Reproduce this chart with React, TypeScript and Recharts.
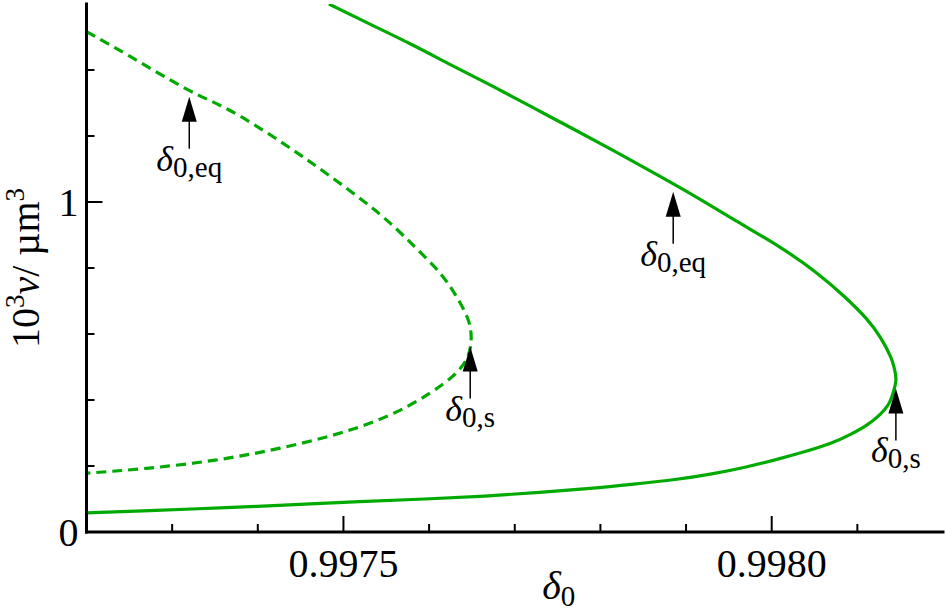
import React from "react";
import { LineChart, Line, XAxis, YAxis, ReferenceDot, Label } from "recharts";

const SERIF = "'Liberation Serif', 'Times New Roman', serif";
const GREEN = "#00aa00";

// stable branch (solid), read along the curve from the top edge, round the fold, to the left edge
const solidDelta = [
  0.997483, 0.997531, 0.997579, 0.997626, 0.997674, 0.997722, 0.99777, 0.997818,
  0.997866, 0.997914, 0.997961, 0.998009, 0.998051, 0.998085, 0.99811, 0.998127,
  0.998139, 0.998143, 0.998145,
  0.998141, 0.998136, 0.998126, 0.998111, 0.998092, 0.998068, 0.998038, 0.998006,
  0.99797, 0.99793, 0.997887, 0.997839, 0.997788, 0.997729, 0.997665, 0.997595,
  0.997519, 0.997437, 0.997356, 0.997274, 0.9972,
];
const solidVolume = [
  1.6, 1.539, 1.478, 1.415, 1.351, 1.285, 1.219, 1.152,
  1.083, 1.012, 0.939, 0.864, 0.788, 0.713, 0.648, 0.589,
  0.53, 0.497, 0.461,
  0.415, 0.385, 0.355, 0.324, 0.296, 0.268, 0.243, 0.22,
  0.197, 0.176, 0.159, 0.145, 0.132, 0.12, 0.109, 0.1,
  0.092, 0.082, 0.073, 0.065, 0.058,
];

// dashed branch
const dashedDelta = [
  0.9972, 0.997251, 0.997317, 0.997367, 0.997426, 0.997484, 0.997542, 0.997581,
  0.997612, 0.997632, 0.997646, 0.997649, 0.997644, 0.997628, 0.997601, 0.997562,
  0.997504, 0.997426, 0.997348, 0.99727, 0.9972,
];
const dashedVolume = [
  1.516, 1.441, 1.342, 1.278, 1.184, 1.079, 0.964, 0.87,
  0.787, 0.713, 0.64, 0.578, 0.525, 0.473, 0.421, 0.364,
  0.306, 0.254, 0.217, 0.193, 0.178,
];

// arrow annotations: tip position + subscript text
const arrowDelta = [0.99732, 0.997648, 0.997885, 0.998145];
const arrowVolume = [1.319, 0.562, 1.031, 0.435];
const arrowSub = ["0,eq", "0,s", "0,eq", "0,s"];

const xTicks = [0.9973, 0.9974, 0.9975, 0.9976, 0.9977, 0.9978, 0.9979, 0.998, 0.9981];
const xMajor = [0.9975, 0.998];
const yTicks = [0, 0.2, 0.4, 0.6, 0.8, 1, 1.2, 1.4];
const yMajor = [0, 1];

const solidData = solidDelta.map((d, i) => ({ d, v: solidVolume[i] }));
const dashedData = dashedDelta.map((d, i) => ({ d, v: dashedVolume[i] }));

const isMajor = (v: number, list: number[]) => list.some((m) => Math.abs(m - v) < 1e-9);

const BottomTick = ({ x, y, payload }: any) => {
  const major = isMajor(payload.value, xMajor);
  return (
    <g>
      <line x1={x} x2={x} y1={y} y2={y - (major ? 16 : 8)} stroke="#000" strokeWidth={2} />
      {major && (
        <text x={x} y={y + 45} textAnchor="middle" fontSize={40} fontFamily={SERIF} fill="#000">
          {payload.value.toFixed(4)}
        </text>
      )}
    </g>
  );
};

const TopTick = ({ x, y, payload }: any) => {
  const major = isMajor(payload.value, xMajor);
  return <line x1={x} x2={x} y1={y} y2={y + (major ? 16 : 8)} stroke="#000" strokeWidth={2} />;
};

const LeftTick = ({ x, y, payload }: any) => {
  const major = isMajor(payload.value, yMajor);
  return (
    <g>
      <line x1={x} x2={x + (major ? 16 : 8)} y1={y} y2={y} stroke="#000" strokeWidth={2} />
      {major && (
        <text x={x - 8} y={y + 13.5} textAnchor="end" fontSize={40} fontFamily={SERIF} fill="#000">
          {String(payload.value)}
        </text>
      )}
    </g>
  );
};

const RightTick = ({ x, y, payload }: any) => {
  const major = isMajor(payload.value, yMajor);
  return <line x1={x} x2={x - (major ? 16 : 8)} y1={y} y2={y} stroke="#000" strokeWidth={2} />;
};

const arrowShape = (sub: string) => (props: any) => {
  const { cx, cy } = props;
  return (
    <g>
      <path d={`M${cx},${cy} L${cx + 7.5},${cy + 25} L${cx - 7.5},${cy + 25} Z`} fill="#000" />
      <line x1={cx} x2={cx} y1={cy + 24} y2={cy + 52} stroke="#000" strokeWidth={1.5} />
      <text x={cx} y={cy + 74} textAnchor="middle" fontFamily={SERIF} fill="#000">
        <tspan fontSize={36} fontStyle="italic">δ</tspan>
        <tspan fontSize={29} dy={6}>{sub}</tspan>
      </text>
    </g>
  );
};

const YTitle = ({ viewBox }: any) => {
  const cx = viewBox.x + 39;
  const cy = viewBox.y + viewBox.height / 2;
  return (
    <text x={cx} y={cy} transform={`rotate(-90, ${cx}, ${cy})`} textAnchor="middle" fontFamily={SERIF} fontSize={40} fill="#000">
      <tspan>10</tspan>
      <tspan fontSize={27} dy={-15}>3</tspan>
      <tspan fontStyle="italic" dy={15}>v</tspan>
      <tspan>/ µm</tspan>
      <tspan fontSize={27} dy={-15}>3</tspan>
    </text>
  );
};

const XTitle = ({ viewBox }: any) => {
  const cx = viewBox.x + viewBox.width / 2 + 44;
  const cy = viewBox.y + 67;
  return (
    <text x={cx} y={cy} textAnchor="middle" fontFamily={SERIF} fill="#000">
      <tspan fontSize={40} fontStyle="italic">δ</tspan>
      <tspan fontSize={29} dy={7}>0</tspan>
    </text>
  );
};

const axisLine = { stroke: "#000", strokeWidth: 3, strokeLinecap: "square" as const };

export default function App() {
  return (
    <div style={{ position: "absolute", left: 0, top: 0, width: 947, height: 612 }}>
      <LineChart width={947} height={612} margin={{ top: 4, right: 4, bottom: 0, left: 0 }}>
        <XAxis
          dataKey="d"
          type="number"
          domain={[0.9972, 0.9982]}
          allowDataOverflow
          ticks={xTicks}
          interval={0}
          tickSize={0}
          tickMargin={0}
          tickLine={false}
          tick={<BottomTick />}
          axisLine={axisLine}
          height={80}
        >
          <Label content={<XTitle />} />
        </XAxis>
        <XAxis
          xAxisId="top"
          orientation="top"
          type="number"
          domain={[0.9972, 0.9982]}
          allowDataOverflow
          ticks={xTicks}
          interval={0}
          tickSize={0}
          tickMargin={0}
          tickLine={false}
          tick={<TopTick />}
          axisLine={axisLine}
          height={0}
        />
        <YAxis
          dataKey="v"
          type="number"
          domain={[0, 1.6]}
          allowDataOverflow
          ticks={yTicks}
          interval={0}
          tickSize={0}
          tickMargin={0}
          tickLine={false}
          tick={<LeftTick />}
          axisLine={axisLine}
          width={86.5}
        >
          <Label content={<YTitle />} />
        </YAxis>
        <YAxis
          yAxisId="right"
          orientation="right"
          type="number"
          domain={[0, 1.6]}
          allowDataOverflow
          ticks={yTicks}
          interval={0}
          tickSize={0}
          tickMargin={0}
          tickLine={false}
          tick={<RightTick />}
          axisLine={axisLine}
          width={0}
        />
        <Line
          data={dashedData}
          dataKey="v"
          type="natural"
          stroke={GREEN}
          strokeWidth={3.2}
          strokeDasharray="10 6"
          dot={false}
          activeDot={false}
          isAnimationActive={false}
        />
        <Line
          data={solidData}
          dataKey="v"
          type="natural"
          stroke={GREEN}
          strokeWidth={3.2}
          dot={false}
          activeDot={false}
          isAnimationActive={false}
        />
        {arrowDelta.map((d, i) => (
          <ReferenceDot key={i} x={d} y={arrowVolume[i]} r={0} shape={arrowShape(arrowSub[i])} />
        ))}
      </LineChart>
    </div>
  );
}
